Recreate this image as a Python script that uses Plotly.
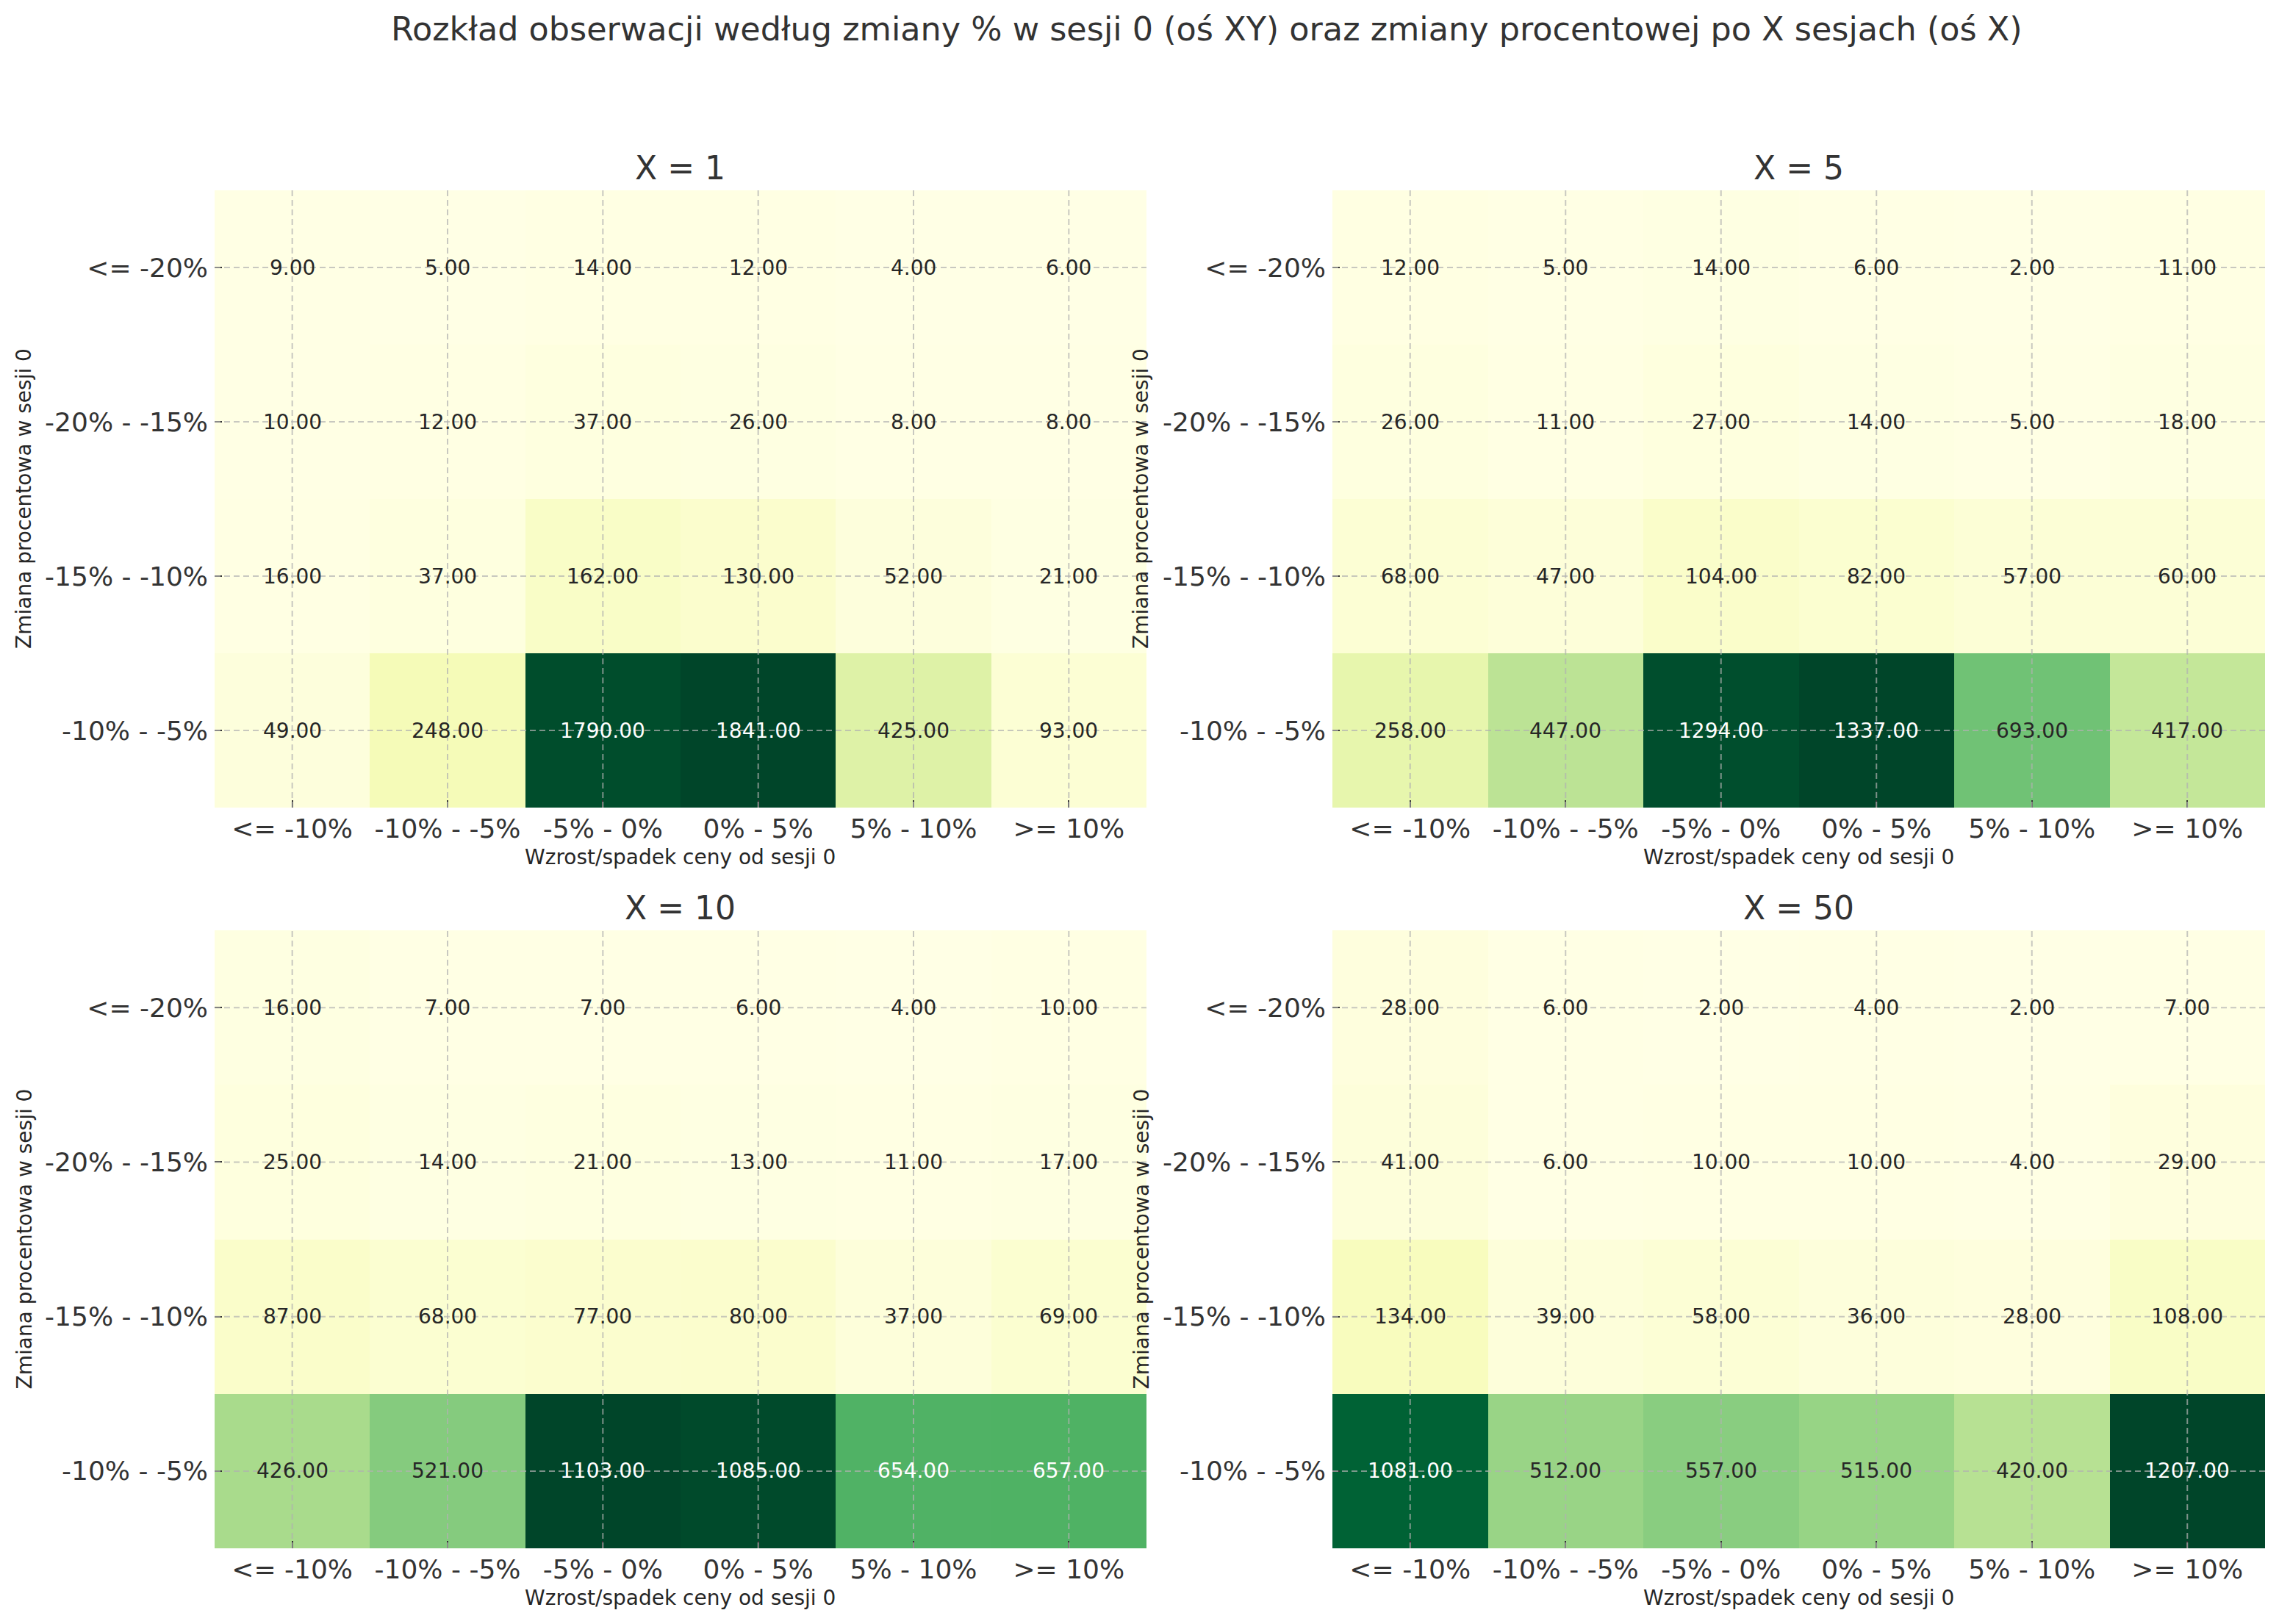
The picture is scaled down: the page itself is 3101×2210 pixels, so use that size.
import numpy as np
import plotly.graph_objects as go
from plotly.colors import sample_colorscale

# ---------------- data ----------------
x_labels = ["<= -10%", "-10% - -5%", "-5% - 0%", "0% - 5%", "5% - 10%", ">= 10%"]
y_labels = ["<= -20%", "-20% - -15%", "-15% - -10%", "-10% - -5%"]

panel_titles = ["X = 1", "X = 5", "X = 10", "X = 50"]

counts_x1 = [
    [9, 5, 14, 12, 4, 6],
    [10, 12, 37, 26, 8, 8],
    [16, 37, 162, 130, 52, 21],
    [49, 248, 1790, 1841, 425, 93],
]
counts_x5 = [
    [12, 5, 14, 6, 2, 11],
    [26, 11, 27, 14, 5, 18],
    [68, 47, 104, 82, 57, 60],
    [258, 447, 1294, 1337, 693, 417],
]
counts_x10 = [
    [16, 7, 7, 6, 4, 10],
    [25, 14, 21, 13, 11, 17],
    [87, 68, 77, 80, 37, 69],
    [426, 521, 1103, 1085, 654, 657],
]
counts_x50 = [
    [28, 6, 2, 4, 2, 7],
    [41, 6, 10, 10, 4, 29],
    [134, 39, 58, 36, 28, 108],
    [1081, 512, 557, 515, 420, 1207],
]

main_title = "Rozkład obserwacji według zmiany % w sesji 0 (oś XY) oraz zmiany procentowej po X sesjach (oś X)"
x_title = "Wzrost/spadek ceny od sesji 0"
y_title = "Zmiana procentowa w sesji 0"

# ---------------- style ----------------
WIN_W, WIN_H = 3101, 2210
OFF = 8  # default body margin of the html page
W, H = WIN_W - 2 * OFF, WIN_H - 2 * OFF
FONT = "DejaVu Sans"
YLGN = ["#ffffe5", "#f7fcb9", "#d9f0a3", "#addd8e", "#78c679",
        "#41ab5d", "#238443", "#006837", "#004529"]
colorscale = [[i / (len(YLGN) - 1), c] for i, c in enumerate(YLGN)]

# panel placement in window pixels (left, right, top, bottom)
px_x = [(292, 1560), (1813, 3082)]
px_y = [(259, 1099), (1266, 2107)]


def fx(p):
    return (p - OFF) / W


def fy(p):
    return 1 - (p - OFF) / H


def lum(rgbstr):
    vals = rgbstr.replace("rgb(", "").replace(")", "").split(",")
    rgb = np.array([float(v) / 255 for v in vals])
    rgb = np.where(rgb <= 0.03928, rgb / 12.92, ((rgb + 0.055) / 1.055) ** 2.4)
    return float(rgb.dot([0.2126, 0.7152, 0.0722]))


panels = [counts_x1, counts_x5, counts_x10, counts_x50]

fig = go.Figure()
annotations = []
shapes = []

for k, z in enumerate(panels):
    r, c = divmod(k, 2)
    ax_id = "" if k == 0 else str(k + 1)
    xa, ya = "x" + ax_id, "y" + ax_id
    z = np.array(z, dtype=float)
    zmin, zmax = z.min(), z.max()

    fig.add_trace(go.Heatmap(
        z=z, x=x_labels, y=y_labels, colorscale=colorscale,
        zmin=zmin, zmax=zmax, showscale=False, xaxis=xa, yaxis=ya,
        hoverinfo="skip",
    ))

    xl, xr = px_x[c]
    yt, yb = px_y[r]
    fig.layout["xaxis" + ax_id] = dict(
        domain=[fx(xl), fx(xr)], anchor=ya, type="category",
        categoryorder="array", categoryarray=x_labels,
        showgrid=False, zeroline=False, showline=False,
        ticks="inside", ticklen=10, tickwidth=2, tickcolor="#333333",
        tickfont=dict(family=FONT, size=36, color="#333333"),
        ticklabelstandoff=4, fixedrange=True,
    )
    fig.layout["yaxis" + ax_id] = dict(
        domain=[fy(yb), fy(yt)], anchor=xa, type="category",
        categoryorder="array", categoryarray=y_labels, autorange="reversed",
        showgrid=False, zeroline=False, showline=False,
        ticks="inside", ticklen=10, tickwidth=2, tickcolor="#333333",
        tickfont=dict(family=FONT, size=36, color="#333333"),
        ticklabelstandoff=8, fixedrange=True,
    )

    # grid lines (dashed, above heatmap)
    gstyle = dict(color="rgba(176,176,176,0.7)", width=2, dash="8px,5px")
    for i, _ in enumerate(x_labels):
        shapes.append(dict(type="line", xref=xa, yref=ya + " domain",
                           x0=i, x1=i, y0=0, y1=1, line=gstyle, layer="above"))
    for j, _ in enumerate(y_labels):
        shapes.append(dict(type="line", xref=xa + " domain", yref=ya,
                           x0=0, x1=1, y0=j, y1=j, line=gstyle, layer="above"))

    # cell annotations
    for j in range(len(y_labels)):
        for i in range(len(x_labels)):
            v = z[j, i]
            t = 0.0 if zmax == zmin else (v - zmin) / (zmax - zmin)
            col = sample_colorscale(colorscale, [t], colortype="rgb")[0]
            tc = "#262626" if lum(col) > 0.408 else "#ffffff"
            annotations.append(dict(
                x=i, y=j, xref=xa, yref=ya, text=f"{v:.2f}", showarrow=False,
                font=dict(family=FONT, size=28, color=tc),
            ))

    # panel title
    annotations.append(dict(
        x=(fx(xl) + fx(xr)) / 2, y=fy(yt - 31), xref="paper", yref="paper",
        text=panel_titles[k], showarrow=False, xanchor="center", yanchor="middle",
        font=dict(family=FONT, size=44, color="#333333"),
    ))
    # x axis title
    annotations.append(dict(
        x=(fx(xl) + fx(xr)) / 2, y=fy(yb + 67), xref="paper", yref="paper",
        text=x_title, showarrow=False, xanchor="center", yanchor="middle",
        font=dict(family=FONT, size=28, color="#262626"),
    ))
    # y axis title
    ytx = 33 if c == 0 else 1553
    annotations.append(dict(
        x=fx(ytx), y=(fy(yt) + fy(yb)) / 2, xref="paper", yref="paper",
        text=y_title, showarrow=False, xanchor="center", yanchor="middle",
        textangle=-90, font=dict(family=FONT, size=28, color="#262626"),
    ))

annotations.append(dict(
    x=fx(1642), y=fy(40), xref="paper", yref="paper", text=main_title,
    showarrow=False, xanchor="center", yanchor="middle",
    font=dict(family=FONT, size=44.5, color="#333333"),
))

fig.update_layout(
    width=W, height=H, margin=dict(l=0, r=0, t=0, b=0),
    paper_bgcolor="white", plot_bgcolor="white",
    annotations=annotations, shapes=shapes, showlegend=False,
    font=dict(family=FONT, color="#333333"),
)

fig.write_html("out.html")
